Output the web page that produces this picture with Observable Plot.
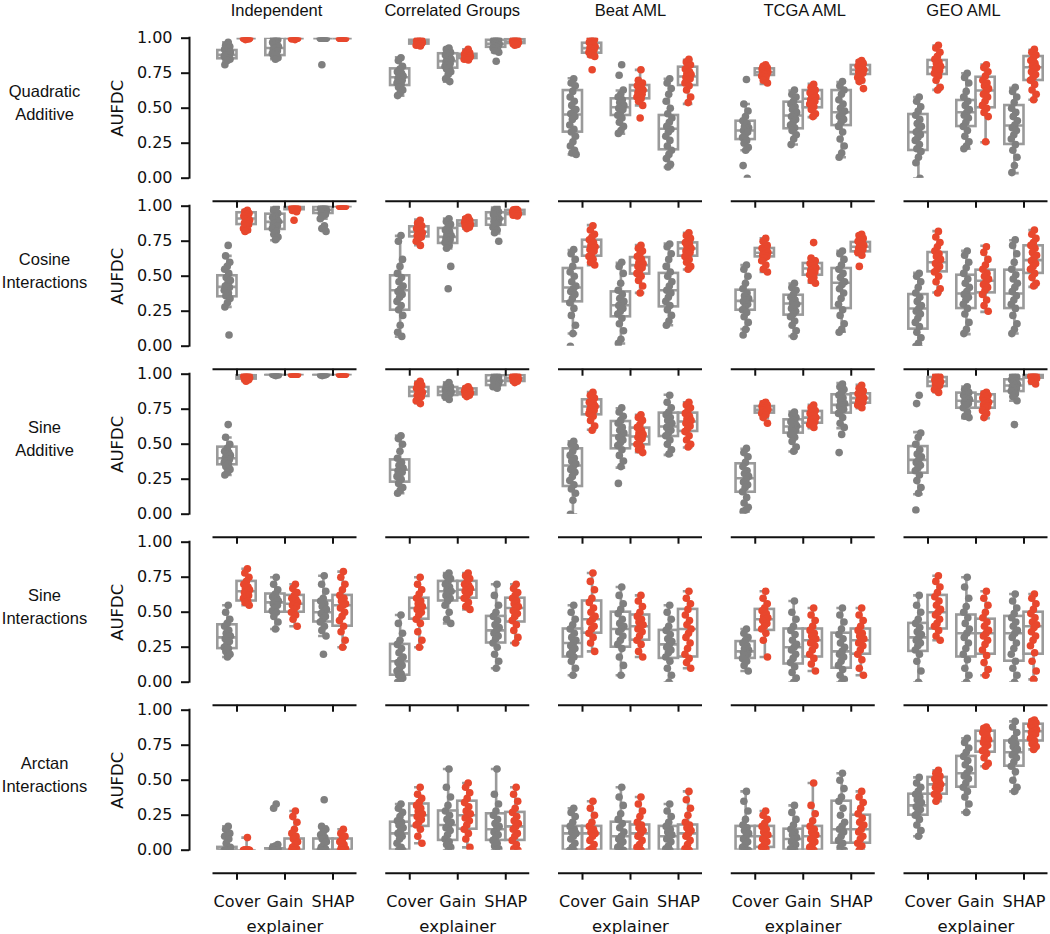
<!DOCTYPE html>
<html><head><meta charset="utf-8">
<script src="https://cdn.jsdelivr.net/npm/d3@7"></script>
<script src="https://cdn.jsdelivr.net/npm/@observablehq/plot@0.6"></script>
<style>
html,body{margin:0;padding:0;background:#fff;}
#chart{width:1050px;height:934px;}
</style></head><body><div id="chart"></div>
<script>
const datasets = ["Independent", "Correlated Groups", "Beat AML", "TCGA AML", "GEO AML"];
const settings = ["Quadratic Additive", "Cosine Interactions", "Sine Additive", "Sine Interactions", "Arctan Interactions"];
const explainers = ["Cover", "Gain", "SHAP"];
const hues = ["series A", "series B"];
const yTicks = [0, 0.25, 0.5, 0.75, 1];

// [dataset, explainer, hue, [whiskerLow, q1, median, q3, whiskerHigh], points]
const quadraticAdditive = [
 [0,0,0,[0.84,0.853,0.881,0.912,0.97],[0.97,0.95,0.94,0.93,0.92,0.91,0.90,0.90,0.89,0.88,0.88,0.87,0.87,0.86,0.86,0.85,0.84,0.81]],
 [0,0,1,[1,1,1,1,1],[1,1,1,0.995,1,1,0.99,1,1,1,0.995,1,1,1,1]],
 [0,1,0,[0.85,0.876,0.93,1,1],[1,1,0.99,0.98,0.97,0.96,0.95,0.94,0.93,0.92,0.91,0.90,0.89,0.88,0.87,0.86,0.85]],
 [0,1,1,[1,1,1,1,1],[1,1,1,1,0.995,1,1,1,0.99,1,1,1,1,1,1]],
 [0,2,0,[1,1,1,1,1],[1,1,1,1,1,1,1,1,1,1,1,1,1,1,0.81]],
 [0,2,1,[1,1,1,1,1],[1,1,1,1,1,1,1,1,1,1,1,1,1,1,1]],
 [1,0,0,[0.59,0.662,0.721,0.781,0.864],[0.86,0.84,0.80,0.78,0.76,0.75,0.74,0.73,0.72,0.71,0.70,0.69,0.68,0.67,0.65,0.63,0.61,0.59]],
 [1,0,1,[0.945,0.958,0.972,0.985,0.995],[0.99,0.99,0.985,0.98,0.98,0.975,0.97,0.97,0.965,0.96,0.96,0.955,0.95,0.945]],
 [1,1,0,[0.69,0.786,0.836,0.889,0.93],[0.93,0.92,0.90,0.89,0.88,0.87,0.86,0.85,0.84,0.83,0.82,0.81,0.80,0.79,0.78,0.76,0.74,0.71,0.69]],
 [1,1,1,[0.84,0.855,0.87,0.885,0.92],[0.92,0.90,0.895,0.89,0.885,0.88,0.875,0.87,0.87,0.865,0.86,0.855,0.85,0.845]],
 [1,2,0,[0.90,0.935,0.96,0.985,1],[1,1,0.99,0.985,0.98,0.97,0.965,0.96,0.955,0.95,0.945,0.94,0.93,0.92,0.91,0.90,0.835]],
 [1,2,1,[0.95,0.962,0.975,0.99,1],[1,0.995,0.99,0.985,0.98,0.975,0.97,0.97,0.965,0.96,0.955,0.95]],
 [2,0,0,[0.17,0.329,0.455,0.626,0.714],[0.71,0.68,0.66,0.62,0.58,0.55,0.52,0.49,0.47,0.46,0.44,0.42,0.38,0.35,0.33,0.30,0.26,0.23,0.20,0.18,0.17]],
 [2,0,1,[0.87,0.893,0.929,0.964,1],[1,1,0.99,0.98,0.97,0.96,0.95,0.94,0.93,0.93,0.92,0.91,0.90,0.89,0.88,0.87,0.775]],
 [2,1,0,[0.317,0.448,0.507,0.567,0.626],[0.81,0.735,0.63,0.60,0.58,0.56,0.54,0.52,0.51,0.50,0.49,0.47,0.45,0.43,0.40,0.37,0.34,0.32]],
 [2,1,1,[0.52,0.567,0.626,0.662,0.774],[0.775,0.70,0.68,0.67,0.66,0.65,0.64,0.63,0.62,0.61,0.60,0.59,0.58,0.57,0.55,0.52,0.43]],
 [2,2,0,[0.079,0.203,0.353,0.448,0.71],[0.71,0.68,0.64,0.60,0.55,0.50,0.46,0.43,0.40,0.37,0.35,0.33,0.30,0.27,0.23,0.20,0.17,0.14,0.10,0.08]],
 [2,2,1,[0.531,0.662,0.726,0.793,0.846],[0.85,0.83,0.81,0.80,0.78,0.76,0.75,0.74,0.73,0.72,0.71,0.70,0.68,0.66,0.63,0.58,0.54]],
 [3,0,0,[0.20,0.276,0.341,0.407,0.53],[0.705,0.53,0.48,0.44,0.41,0.39,0.37,0.36,0.35,0.34,0.33,0.31,0.29,0.27,0.25,0.22,0.20,0.09,0.0]],
 [3,0,1,[0.674,0.734,0.757,0.781,0.80],[0.81,0.80,0.79,0.785,0.78,0.77,0.765,0.76,0.755,0.75,0.745,0.74,0.73,0.72,0.70,0.68]],
 [3,1,0,[0.241,0.353,0.448,0.543,0.626],[0.63,0.60,0.58,0.55,0.53,0.51,0.49,0.47,0.45,0.44,0.42,0.40,0.38,0.36,0.34,0.31,0.28,0.24]],
 [3,1,1,[0.436,0.503,0.567,0.626,0.674],[0.67,0.65,0.63,0.62,0.61,0.60,0.59,0.58,0.57,0.56,0.55,0.54,0.53,0.51,0.49,0.46,0.44]],
 [3,2,0,[0.15,0.376,0.471,0.626,0.686],[0.69,0.66,0.63,0.60,0.56,0.53,0.50,0.48,0.46,0.44,0.42,0.40,0.37,0.33,0.28,0.23,0.18,0.15]],
 [3,2,1,[0.686,0.741,0.774,0.805,0.84],[0.84,0.83,0.82,0.81,0.80,0.79,0.78,0.775,0.77,0.76,0.75,0.74,0.72,0.70,0.69,0.64]],
 [4,0,0,[0.0,0.198,0.329,0.455,0.579],[0.58,0.55,0.51,0.48,0.45,0.42,0.39,0.37,0.35,0.33,0.31,0.29,0.27,0.24,0.21,0.19,0.15,0.11,0.0]],
 [4,0,1,[0.631,0.741,0.793,0.841,0.948],[0.95,0.93,0.90,0.87,0.85,0.83,0.82,0.80,0.79,0.78,0.77,0.76,0.75,0.73,0.70,0.65,0.63]],
 [4,1,0,[0.21,0.369,0.471,0.555,0.75],[0.75,0.72,0.68,0.62,0.58,0.55,0.52,0.49,0.47,0.45,0.43,0.40,0.37,0.34,0.30,0.26,0.23,0.21]],
 [4,1,1,[0.257,0.503,0.626,0.721,0.812],[0.81,0.79,0.76,0.73,0.70,0.68,0.66,0.64,0.62,0.60,0.58,0.55,0.52,0.50,0.47,0.44,0.26]],
 [4,2,0,[0.036,0.241,0.376,0.519,0.646],[0.65,0.62,0.58,0.54,0.50,0.47,0.44,0.41,0.38,0.36,0.34,0.31,0.28,0.24,0.20,0.15,0.09,0.04]],
 [4,2,1,[0.56,0.698,0.793,0.869,0.917],[0.92,0.90,0.88,0.86,0.84,0.82,0.80,0.79,0.78,0.76,0.74,0.72,0.70,0.67,0.63,0.60,0.56]]
];

const cosineInteractions = [
 [0,0,0,[0.281,0.353,0.424,0.503,0.645],[0.72,0.645,0.60,0.57,0.55,0.52,0.49,0.47,0.45,0.43,0.42,0.41,0.40,0.38,0.36,0.34,0.31,0.28,0.08]],
 [0,0,1,[0.817,0.869,0.912,0.953,0.972],[0.97,0.96,0.95,0.94,0.93,0.92,0.91,0.90,0.89,0.88,0.87,0.86,0.84,0.83,0.82]],
 [0,1,0,[0.757,0.834,0.888,0.943,0.99],[0.99,0.97,0.95,0.93,0.92,0.91,0.90,0.89,0.88,0.87,0.86,0.85,0.84,0.82,0.80,0.78,0.76]],
 [0,1,1,[0.96,0.975,0.99,1,1],[1,1,1,0.995,0.99,0.99,0.985,0.98,0.975,0.97,0.96,0.90]],
 [0,2,0,[0.91,0.948,0.975,0.995,1],[1,1,0.995,0.99,0.985,0.98,0.975,0.97,0.96,0.95,0.94,0.93,0.91,0.86,0.84,0.82]],
 [0,2,1,[1,1,1,1,1],[1,1,1,1,1,1,1,1,1,1,1,1,1,1]],
 [1,0,0,[0.067,0.257,0.40,0.503,0.788],[0.79,0.75,0.62,0.57,0.52,0.49,0.46,0.43,0.41,0.39,0.37,0.35,0.32,0.29,0.26,0.22,0.15,0.10,0.07]],
 [1,0,1,[0.722,0.781,0.817,0.853,0.905],[0.90,0.88,0.86,0.85,0.84,0.83,0.82,0.81,0.80,0.79,0.78,0.77,0.75,0.72]],
 [1,1,0,[0.698,0.734,0.781,0.841,0.912],[0.91,0.89,0.87,0.85,0.83,0.82,0.80,0.79,0.78,0.77,0.76,0.75,0.74,0.72,0.70,0.57,0.41]],
 [1,1,1,[0.84,0.858,0.876,0.895,0.92],[0.92,0.91,0.90,0.89,0.885,0.88,0.875,0.87,0.865,0.86,0.85,0.84]],
 [1,2,0,[0.805,0.864,0.912,0.953,0.99],[0.99,0.97,0.96,0.95,0.94,0.93,0.92,0.91,0.90,0.89,0.88,0.87,0.85,0.83,0.81,0.75]],
 [1,2,1,[0.93,0.94,0.955,0.97,0.98],[0.98,0.975,0.97,0.965,0.96,0.955,0.95,0.945,0.94,0.935,0.93]],
 [2,0,0,[0.091,0.317,0.419,0.555,0.686],[0.69,0.66,0.62,0.57,0.53,0.50,0.46,0.43,0.41,0.39,0.37,0.34,0.31,0.27,0.22,0.15,0.09,0.0]],
 [2,0,1,[0.579,0.643,0.71,0.757,0.865],[0.86,0.83,0.80,0.78,0.76,0.74,0.72,0.71,0.70,0.69,0.68,0.66,0.64,0.62,0.60,0.58]],
 [2,1,0,[0.019,0.21,0.293,0.388,0.595],[0.60,0.57,0.52,0.45,0.40,0.37,0.34,0.32,0.30,0.29,0.27,0.25,0.23,0.20,0.16,0.11,0.05,0.02]],
 [2,1,1,[0.381,0.515,0.579,0.633,0.722],[0.72,0.70,0.68,0.66,0.64,0.62,0.60,0.59,0.58,0.57,0.56,0.54,0.52,0.50,0.47,0.43,0.38]],
 [2,2,0,[0.15,0.281,0.40,0.52,0.734],[0.73,0.71,0.66,0.62,0.57,0.53,0.50,0.46,0.43,0.40,0.38,0.35,0.32,0.29,0.26,0.22,0.18,0.15]],
 [2,2,1,[0.548,0.643,0.698,0.738,0.81],[0.81,0.79,0.77,0.75,0.74,0.73,0.72,0.70,0.69,0.68,0.67,0.66,0.64,0.62,0.60,0.57,0.55]],
 [3,0,0,[0.122,0.257,0.324,0.40,0.579],[0.58,0.55,0.50,0.45,0.41,0.38,0.36,0.34,0.33,0.32,0.30,0.28,0.26,0.24,0.21,0.17,0.12,0.08]],
 [3,0,1,[0.531,0.638,0.667,0.698,0.77],[0.77,0.75,0.72,0.71,0.70,0.69,0.68,0.67,0.66,0.65,0.64,0.63,0.61,0.58,0.55,0.53]],
 [3,1,0,[0.072,0.222,0.305,0.364,0.448],[0.45,0.42,0.40,0.37,0.35,0.33,0.31,0.30,0.29,0.27,0.25,0.23,0.21,0.18,0.15,0.11,0.07]],
 [3,1,1,[0.453,0.507,0.555,0.591,0.626],[0.74,0.63,0.61,0.60,0.59,0.58,0.57,0.56,0.55,0.54,0.53,0.52,0.51,0.49,0.47,0.45]],
 [3,2,0,[0.103,0.269,0.453,0.555,0.681],[0.68,0.66,0.62,0.58,0.55,0.52,0.49,0.46,0.44,0.41,0.38,0.34,0.30,0.26,0.22,0.16,0.12,0.10]],
 [3,2,1,[0.65,0.674,0.71,0.741,0.80],[0.80,0.79,0.77,0.76,0.75,0.74,0.73,0.72,0.71,0.70,0.69,0.68,0.67,0.65,0.57]],
 [4,0,0,[0.0,0.122,0.269,0.369,0.524],[0.52,0.50,0.46,0.42,0.38,0.35,0.32,0.29,0.27,0.25,0.23,0.20,0.17,0.14,0.10,0.06,0.02,0.0]],
 [4,0,1,[0.384,0.531,0.60,0.669,0.822],[0.82,0.78,0.74,0.71,0.68,0.66,0.64,0.62,0.60,0.59,0.57,0.55,0.53,0.50,0.46,0.41,0.38]],
 [4,1,0,[0.086,0.269,0.376,0.507,0.681],[0.68,0.65,0.60,0.56,0.52,0.48,0.45,0.42,0.39,0.37,0.35,0.33,0.30,0.27,0.23,0.17,0.12,0.09]],
 [4,1,1,[0.245,0.381,0.467,0.543,0.717],[0.71,0.67,0.62,0.58,0.55,0.52,0.50,0.48,0.46,0.44,0.42,0.40,0.37,0.33,0.29,0.25]],
 [4,2,0,[0.091,0.269,0.376,0.543,0.757],[0.76,0.72,0.66,0.60,0.55,0.51,0.48,0.45,0.42,0.39,0.36,0.33,0.30,0.27,0.22,0.16,0.12,0.09]],
 [4,2,1,[0.424,0.52,0.615,0.717,0.829],[0.83,0.80,0.77,0.74,0.72,0.70,0.67,0.65,0.63,0.61,0.59,0.57,0.55,0.52,0.49,0.45,0.43]]
];

const sineAdditive = [
 [0,0,0,[0.281,0.353,0.40,0.479,0.548],[0.64,0.55,0.50,0.47,0.45,0.44,0.43,0.42,0.41,0.40,0.39,0.38,0.37,0.36,0.34,0.32,0.30,0.28]],
 [0,0,1,[0.95,0.965,0.98,0.99,1],[1,0.995,0.99,0.99,0.985,0.98,0.98,0.975,0.97,0.965,0.96,0.95]],
 [0,1,0,[0.99,0.995,1,1,1],[1,1,1,1,1,1,0.995,0.995,0.99,1,1,1]],
 [0,1,1,[1,1,1,1,1],[1,1,1,1,1,1,1,1,1,1,1,1,1,1]],
 [0,2,0,[0.99,0.995,1,1,1],[1,1,1,1,0.995,0.995,0.99,1,1,1,1,1]],
 [0,2,1,[1,1,1,1,1],[1,1,1,1,1,1,1,1,1,1,1,1,1,1]],
 [1,0,0,[0.15,0.229,0.317,0.388,0.562],[0.56,0.54,0.50,0.45,0.40,0.37,0.35,0.33,0.32,0.31,0.30,0.29,0.27,0.25,0.22,0.19,0.17,0.15]],
 [1,0,1,[0.793,0.841,0.876,0.905,0.948],[0.95,0.93,0.92,0.91,0.90,0.89,0.88,0.87,0.86,0.85,0.84,0.83,0.81,0.79]],
 [1,1,0,[0.817,0.848,0.876,0.905,0.943],[0.94,0.92,0.91,0.90,0.89,0.885,0.88,0.875,0.87,0.865,0.86,0.85,0.84,0.82]],
 [1,1,1,[0.84,0.853,0.874,0.895,0.91],[0.91,0.90,0.89,0.885,0.88,0.875,0.87,0.865,0.86,0.855,0.85,0.84]],
 [1,2,0,[0.90,0.919,0.953,0.99,0.995],[0.995,0.99,0.98,0.97,0.965,0.96,0.955,0.95,0.945,0.94,0.93,0.92,0.91,0.90]],
 [1,2,1,[0.94,0.948,0.97,0.99,1],[1,0.995,0.99,0.985,0.98,0.975,0.97,0.965,0.96,0.955,0.95,0.94]],
 [2,0,0,[0.0,0.198,0.348,0.467,0.52],[0.52,0.50,0.48,0.45,0.42,0.40,0.38,0.36,0.34,0.32,0.30,0.27,0.24,0.21,0.18,0.15,0.10,0.0]],
 [2,0,1,[0.603,0.71,0.769,0.817,0.872],[0.87,0.85,0.83,0.81,0.80,0.79,0.78,0.77,0.76,0.75,0.74,0.73,0.72,0.70,0.67,0.63,0.60]],
 [2,1,0,[0.333,0.467,0.562,0.662,0.757],[0.76,0.73,0.70,0.67,0.65,0.62,0.60,0.58,0.56,0.55,0.53,0.51,0.49,0.46,0.42,0.38,0.34,0.22]],
 [2,1,1,[0.443,0.496,0.555,0.615,0.71],[0.71,0.69,0.67,0.64,0.62,0.60,0.58,0.57,0.56,0.55,0.54,0.52,0.50,0.48,0.46,0.44]],
 [2,2,0,[0.424,0.555,0.626,0.722,0.853],[0.85,0.80,0.76,0.73,0.71,0.69,0.67,0.65,0.63,0.62,0.60,0.58,0.56,0.53,0.50,0.46,0.43]],
 [2,2,1,[0.476,0.591,0.662,0.722,0.80],[0.80,0.78,0.76,0.74,0.72,0.70,0.68,0.67,0.66,0.65,0.63,0.61,0.59,0.56,0.53,0.50,0.48]],
 [3,0,0,[0.02,0.157,0.257,0.36,0.467],[0.47,0.44,0.41,0.37,0.34,0.31,0.29,0.27,0.25,0.23,0.21,0.19,0.16,0.12,0.08,0.05,0.03,0.02]],
 [3,0,1,[0.686,0.722,0.745,0.769,0.805],[0.80,0.79,0.78,0.775,0.77,0.76,0.755,0.75,0.745,0.74,0.735,0.73,0.72,0.71,0.69,0.65]],
 [3,1,0,[0.448,0.579,0.626,0.674,0.734],[0.73,0.71,0.69,0.67,0.66,0.65,0.64,0.63,0.62,0.61,0.60,0.59,0.57,0.55,0.52,0.48,0.45]],
 [3,1,1,[0.615,0.65,0.69,0.734,0.781],[0.78,0.76,0.74,0.73,0.72,0.71,0.70,0.69,0.68,0.67,0.66,0.65,0.64,0.62]],
 [3,2,0,[0.615,0.722,0.781,0.853,0.936],[0.93,0.91,0.89,0.87,0.85,0.83,0.81,0.79,0.78,0.77,0.75,0.74,0.72,0.69,0.65,0.62,0.57,0.44]],
 [3,2,1,[0.757,0.793,0.829,0.86,0.924],[0.92,0.90,0.88,0.87,0.86,0.85,0.84,0.83,0.82,0.81,0.80,0.79,0.78,0.76]],
 [4,0,0,[0.143,0.293,0.388,0.483,0.586],[0.85,0.79,0.58,0.55,0.50,0.46,0.43,0.41,0.39,0.37,0.35,0.33,0.31,0.28,0.24,0.19,0.15,0.03]],
 [4,0,1,[0.872,0.912,0.948,0.976,1],[1,0.99,0.98,0.97,0.96,0.955,0.95,0.945,0.94,0.93,0.92,0.91,0.89,0.87]],
 [4,1,0,[0.686,0.757,0.81,0.865,0.912],[0.91,0.89,0.87,0.86,0.85,0.84,0.83,0.82,0.81,0.80,0.79,0.78,0.76,0.73,0.70,0.69]],
 [4,1,1,[0.686,0.757,0.805,0.853,0.876],[0.87,0.86,0.85,0.84,0.83,0.82,0.81,0.80,0.79,0.78,0.77,0.76,0.74,0.72,0.69]],
 [4,2,0,[0.81,0.876,0.919,0.96,0.995],[1,0.99,0.98,0.97,0.96,0.95,0.94,0.93,0.92,0.91,0.90,0.89,0.88,0.86,0.84,0.81,0.64]],
 [4,2,1,[0.93,0.972,0.99,1,1],[1,1,0.995,0.99,0.985,0.98,0.975,0.97,0.96,0.95,0.93]]
];

const sineInteractions = [
 [0,0,0,[0.18,0.24,0.32,0.41,0.55],[0.55,0.50,0.45,0.42,0.40,0.37,0.35,0.33,0.32,0.31,0.29,0.27,0.25,0.24,0.22,0.20,0.18]],
 [0,0,1,[0.55,0.58,0.65,0.72,0.81],[0.81,0.78,0.75,0.72,0.70,0.68,0.67,0.66,0.65,0.64,0.62,0.61,0.60,0.58,0.57,0.55]],
 [0,1,0,[0.38,0.50,0.57,0.63,0.75],[0.75,0.70,0.66,0.63,0.61,0.60,0.59,0.58,0.57,0.56,0.55,0.53,0.51,0.50,0.47,0.43,0.38]],
 [0,1,1,[0.40,0.50,0.56,0.62,0.70],[0.70,0.67,0.64,0.62,0.60,0.59,0.58,0.57,0.56,0.55,0.54,0.52,0.50,0.48,0.45,0.40]],
 [0,2,0,[0.33,0.43,0.50,0.58,0.76],[0.76,0.70,0.65,0.60,0.58,0.56,0.54,0.52,0.50,0.49,0.47,0.45,0.43,0.40,0.37,0.33,0.20]],
 [0,2,1,[0.25,0.40,0.55,0.62,0.79],[0.79,0.75,0.70,0.66,0.62,0.60,0.58,0.56,0.55,0.53,0.50,0.47,0.44,0.40,0.36,0.30,0.25]],
 [1,0,0,[0.0,0.05,0.15,0.27,0.48],[0.48,0.42,0.35,0.30,0.27,0.24,0.21,0.18,0.16,0.14,0.12,0.10,0.08,0.06,0.05,0.03,0.01,0.0]],
 [1,0,1,[0.25,0.45,0.53,0.60,0.75],[0.75,0.70,0.66,0.63,0.60,0.58,0.56,0.54,0.53,0.52,0.50,0.48,0.45,0.42,0.36,0.30,0.25]],
 [1,1,0,[0.42,0.58,0.65,0.72,0.78],[0.78,0.76,0.74,0.72,0.70,0.68,0.66,0.65,0.64,0.62,0.60,0.58,0.55,0.50,0.45,0.42]],
 [1,1,1,[0.52,0.60,0.66,0.72,0.78],[0.78,0.76,0.74,0.72,0.70,0.69,0.68,0.67,0.66,0.65,0.64,0.62,0.60,0.57,0.54,0.52]],
 [1,2,0,[0.10,0.28,0.37,0.47,0.70],[0.70,0.62,0.55,0.50,0.47,0.44,0.41,0.39,0.37,0.35,0.33,0.31,0.28,0.25,0.20,0.15,0.10]],
 [1,2,1,[0.28,0.43,0.53,0.60,0.70],[0.70,0.67,0.64,0.62,0.60,0.58,0.56,0.54,0.53,0.51,0.49,0.47,0.44,0.41,0.37,0.32,0.28]],
 [2,0,0,[0.05,0.18,0.28,0.38,0.55],[0.55,0.50,0.45,0.41,0.38,0.35,0.32,0.30,0.28,0.26,0.24,0.22,0.20,0.18,0.15,0.10,0.05]],
 [2,0,1,[0.22,0.35,0.45,0.58,0.78],[0.78,0.72,0.66,0.60,0.57,0.53,0.50,0.47,0.45,0.43,0.40,0.38,0.35,0.32,0.28,0.22]],
 [2,1,0,[0.05,0.25,0.38,0.50,0.68],[0.68,0.62,0.56,0.52,0.49,0.45,0.42,0.40,0.38,0.36,0.33,0.30,0.27,0.24,0.18,0.12,0.05]],
 [2,1,1,[0.18,0.30,0.40,0.48,0.62],[0.62,0.58,0.54,0.50,0.47,0.45,0.43,0.41,0.40,0.38,0.36,0.33,0.30,0.27,0.22,0.18]],
 [2,2,0,[0.0,0.17,0.27,0.37,0.55],[0.55,0.50,0.45,0.40,0.37,0.34,0.31,0.29,0.27,0.25,0.23,0.21,0.18,0.15,0.10,0.05,0.0]],
 [2,2,1,[0.10,0.18,0.38,0.52,0.65],[0.65,0.60,0.56,0.52,0.48,0.44,0.41,0.38,0.35,0.32,0.28,0.24,0.20,0.17,0.14,0.10]],
 [3,0,0,[0.08,0.17,0.22,0.29,0.38],[0.38,0.35,0.32,0.30,0.28,0.26,0.24,0.23,0.22,0.21,0.20,0.19,0.17,0.15,0.12,0.08]],
 [3,0,1,[0.18,0.37,0.45,0.52,0.65],[0.65,0.60,0.56,0.53,0.51,0.49,0.47,0.46,0.45,0.44,0.42,0.40,0.38,0.35,0.30,0.18]],
 [3,1,0,[0.0,0.13,0.25,0.38,0.58],[0.58,0.50,0.45,0.40,0.37,0.34,0.30,0.27,0.25,0.23,0.20,0.17,0.14,0.11,0.07,0.03,0.0]],
 [3,1,1,[0.08,0.18,0.30,0.38,0.53],[0.53,0.48,0.44,0.40,0.37,0.35,0.33,0.31,0.30,0.28,0.26,0.23,0.20,0.17,0.13,0.08]],
 [3,2,0,[0.0,0.10,0.22,0.35,0.53],[0.53,0.48,0.43,0.38,0.34,0.31,0.28,0.25,0.22,0.20,0.18,0.15,0.12,0.09,0.05,0.02,0.0]],
 [3,2,1,[0.05,0.20,0.30,0.38,0.53],[0.53,0.48,0.44,0.40,0.37,0.35,0.33,0.31,0.30,0.28,0.26,0.23,0.20,0.16,0.10,0.05]],
 [4,0,0,[0.0,0.22,0.32,0.42,0.62],[0.62,0.55,0.50,0.45,0.42,0.39,0.36,0.34,0.32,0.30,0.28,0.26,0.23,0.20,0.15,0.08,0.0]],
 [4,0,1,[0.30,0.38,0.50,0.62,0.76],[0.76,0.72,0.68,0.64,0.61,0.58,0.55,0.52,0.50,0.48,0.45,0.42,0.40,0.37,0.33,0.30]],
 [4,1,0,[0.0,0.18,0.35,0.48,0.75],[0.75,0.68,0.60,0.54,0.50,0.46,0.42,0.38,0.35,0.32,0.28,0.24,0.20,0.16,0.10,0.05,0.0]],
 [4,1,1,[0.05,0.20,0.35,0.45,0.65],[0.65,0.60,0.55,0.50,0.46,0.43,0.40,0.37,0.35,0.33,0.30,0.27,0.23,0.19,0.14,0.09,0.05]],
 [4,2,0,[0.0,0.15,0.35,0.47,0.63],[0.63,0.58,0.53,0.49,0.46,0.43,0.40,0.37,0.35,0.32,0.28,0.24,0.20,0.15,0.10,0.05,0.0]],
 [4,2,1,[0.02,0.20,0.40,0.50,0.63],[0.63,0.60,0.56,0.52,0.49,0.46,0.43,0.41,0.39,0.36,0.33,0.30,0.26,0.21,0.15,0.08,0.02]]
];

const arctanInteractions = [
 [0,0,0,[0,0,0,0.02,0.17],[0.17,0.15,0.12,0.11,0.10,0.08,0.05,0.02,0.01,0,0,0,0,0,0,0]],
 [0,0,1,[0,0,0,0,0.09],[0.09,0,0,0,0,0,0,0,0,0,0,0,0,0]],
 [0,1,0,[0,0,0,0.01,0.04],[0.33,0.30,0.04,0.03,0.02,0.01,0.01,0,0,0,0,0,0,0,0]],
 [0,1,1,[0,0,0,0.08,0.28],[0.28,0.24,0.20,0.15,0.12,0.10,0.08,0.06,0.04,0.02,0.01,0,0,0,0]],
 [0,2,0,[0,0,0,0.08,0.17],[0.36,0.17,0.15,0.13,0.11,0.09,0.08,0.06,0.04,0.02,0.01,0,0,0,0,0]],
 [0,2,1,[0,0,0,0.08,0.15],[0.15,0.12,0.10,0.08,0.06,0.04,0.02,0.01,0,0,0,0]],
 [1,0,0,[0,0,0.12,0.20,0.33],[0.33,0.30,0.27,0.24,0.21,0.20,0.18,0.16,0.14,0.12,0.10,0.08,0.05,0.02,0,0,0]],
 [1,0,1,[0.05,0.17,0.25,0.33,0.45],[0.45,0.40,0.37,0.34,0.32,0.30,0.28,0.26,0.25,0.24,0.22,0.20,0.18,0.15,0.10,0.05]],
 [1,1,0,[0,0.07,0.18,0.28,0.58],[0.58,0.45,0.38,0.32,0.28,0.25,0.22,0.20,0.18,0.16,0.14,0.11,0.08,0.06,0.04,0.02,0]],
 [1,1,1,[0.02,0.15,0.25,0.35,0.48],[0.48,0.45,0.41,0.37,0.34,0.31,0.28,0.26,0.25,0.23,0.21,0.18,0.15,0.12,0.08,0.02]],
 [1,2,0,[0,0.07,0.15,0.26,0.58],[0.58,0.40,0.33,0.28,0.25,0.22,0.19,0.17,0.15,0.13,0.11,0.09,0.07,0.05,0.03,0.01,0]],
 [1,2,1,[0,0.07,0.17,0.27,0.45],[0.45,0.40,0.35,0.30,0.27,0.24,0.21,0.19,0.17,0.15,0.12,0.10,0.07,0.04,0.01,0]],
 [2,0,0,[0,0,0.12,0.17,0.30],[0.30,0.27,0.24,0.20,0.17,0.15,0.13,0.12,0.10,0.08,0.05,0.02,0,0,0]],
 [2,0,1,[0,0,0.12,0.17,0.35],[0.35,0.30,0.25,0.20,0.17,0.15,0.13,0.12,0.10,0.07,0.04,0.01,0,0]],
 [2,1,0,[0,0,0.10,0.20,0.45],[0.45,0.38,0.32,0.26,0.22,0.19,0.16,0.13,0.10,0.08,0.06,0.04,0.02,0,0,0]],
 [2,1,1,[0,0,0.12,0.18,0.38],[0.38,0.33,0.28,0.24,0.20,0.18,0.16,0.14,0.12,0.10,0.07,0.04,0.02,0,0]],
 [2,2,0,[0,0,0.10,0.17,0.33],[0.33,0.28,0.24,0.20,0.17,0.15,0.13,0.11,0.10,0.08,0.06,0.03,0.01,0,0]],
 [2,2,1,[0,0,0.12,0.18,0.42],[0.42,0.36,0.30,0.25,0.20,0.18,0.16,0.14,0.12,0.10,0.07,0.04,0.01,0,0]],
 [3,0,0,[0,0,0.10,0.17,0.42],[0.42,0.35,0.28,0.22,0.18,0.16,0.14,0.12,0.10,0.08,0.06,0.04,0.02,0,0,0]],
 [3,0,1,[0,0.02,0.10,0.17,0.28],[0.28,0.25,0.22,0.19,0.17,0.15,0.13,0.11,0.10,0.08,0.06,0.04,0.02,0.01,0]],
 [3,1,0,[0,0,0.08,0.15,0.32],[0.32,0.27,0.22,0.18,0.15,0.13,0.11,0.09,0.08,0.06,0.04,0.02,0.01,0,0]],
 [3,1,1,[0,0,0.10,0.17,0.48],[0.48,0.32,0.26,0.21,0.17,0.15,0.13,0.11,0.10,0.08,0.06,0.04,0.02,0,0]],
 [3,2,0,[0,0.05,0.15,0.35,0.55],[0.55,0.50,0.44,0.38,0.35,0.30,0.25,0.20,0.17,0.15,0.13,0.10,0.07,0.05,0.02,0]],
 [3,2,1,[0,0.05,0.15,0.25,0.42],[0.42,0.38,0.34,0.30,0.26,0.23,0.20,0.18,0.15,0.13,0.10,0.08,0.05,0.03,0]],
 [4,0,0,[0.10,0.25,0.32,0.40,0.52],[0.52,0.48,0.45,0.42,0.40,0.38,0.36,0.34,0.32,0.31,0.29,0.27,0.25,0.22,0.18,0.14,0.10]],
 [4,0,1,[0.35,0.40,0.47,0.52,0.57],[0.57,0.55,0.53,0.52,0.51,0.50,0.48,0.47,0.46,0.45,0.44,0.42,0.40,0.38,0.35]],
 [4,1,0,[0.27,0.45,0.55,0.67,0.80],[0.80,0.77,0.73,0.70,0.67,0.64,0.61,0.58,0.55,0.53,0.51,0.48,0.45,0.42,0.38,0.33,0.27]],
 [4,1,1,[0.60,0.70,0.78,0.85,0.88],[0.88,0.87,0.86,0.85,0.84,0.82,0.80,0.79,0.78,0.77,0.75,0.73,0.71,0.69,0.66,0.62,0.60]],
 [4,2,0,[0.42,0.60,0.70,0.78,0.92],[0.92,0.88,0.84,0.80,0.78,0.76,0.74,0.72,0.70,0.68,0.66,0.63,0.60,0.56,0.50,0.45,0.42]],
 [4,2,1,[0.72,0.78,0.85,0.90,0.93],[0.93,0.92,0.91,0.90,0.89,0.88,0.87,0.86,0.85,0.84,0.83,0.82,0.80,0.78,0.76,0.74,0.72]]
];

const rowData = [quadraticAdditive, cosineInteractions, sineAdditive, sineInteractions, arctanInteractions];

// ---- build tables ----
const GREY = "#7f7f7f", RED = "#e8472d", BOX = "#9a9a9a", INK = "#111";
const jitter = k => ((((k + 1) * 0.6180339887) % 1) - 0.5) * 0.14;
const boxes = [], points = [];
rowData.forEach((rows, ri) => rows.forEach(([c, e, h, s, pts]) => {
  const fy = settings[ri], fx = datasets[c];
  const center = e + (h ? 0.2 : -0.2);
  boxes.push({fx, fy, hue: hues[h], center, lo: s[0], q1: s[1], med: s[2], q3: s[3], hi: s[4]});
  pts.forEach((v, k) => points.push({fx, fy, hue: hues[h], x: center + jitter(k), y: v}));
}));
const cells = settings.flatMap(fy => datasets.map(fx => ({fx, fy})));
const bottomLabels = datasets.flatMap(fx => explainers.map((t, i) => ({fx, fy: settings[4], i, t})));

const boxStyle = {fx: "fx", fy: "fy", stroke: BOX, strokeWidth: 2.6, clip: true};
const chart = Plot.plot({
  width: 1050, height: 934,
  marginLeft: 212.5, marginRight: 2.5, marginTop: 37.7, marginBottom: 84.3,
  style: {fontFamily: "DejaVu Sans", fontSize: "16px", background: "#fff", color: INK},
  fx: {domain: datasets, paddingInner: 28.75 / 172.75, paddingOuter: 0, round: false, axis: null},
  fy: {domain: settings, paddingInner: 28 / 168, paddingOuter: 0, round: false, axis: null},
  x: {domain: [-0.5, 2.5], axis: null},
  y: {domain: [0, 1], axis: null},
  color: {type: "ordinal", domain: hues, range: [GREY, RED], legend: false},
  marks: [
    Plot.rect(boxes, {...boxStyle, x1: d => d.center - 0.2, x2: d => d.center + 0.2, y1: "q1", y2: "q3", fill: "none"}),
    Plot.ruleX(boxes, {...boxStyle, x: "center", y1: "lo", y2: "q1"}),
    Plot.ruleX(boxes, {...boxStyle, x: "center", y1: "q3", y2: "hi"}),
    Plot.ruleY(boxes, {...boxStyle, y: "lo", x1: d => d.center - 0.1, x2: d => d.center + 0.1}),
    Plot.ruleY(boxes, {...boxStyle, y: "hi", x1: d => d.center - 0.1, x2: d => d.center + 0.1}),
    Plot.ruleY(boxes, {...boxStyle, y: "med", x1: d => d.center - 0.2, x2: d => d.center + 0.2}),
    Plot.dot(points, {fx: "fx", fy: "fy", x: "x", y: "y", r: 3.8, fill: "hue", stroke: null, clip: true}),
    // offset x axis line + ticks in every facet
    Plot.ruleY(cells, {fx: "fx", fy: "fy", y: () => 0, dy: 23, stroke: INK, strokeWidth: 2}),
    Plot.axisX({ticks: [0, 1, 2], tickSize: 7, dy: 23, fill: "none", label: null, facetAnchor: null, stroke: INK, strokeWidth: 2}),
    // bottom tick labels and axis title
    Plot.text(bottomLabels, {fx: "fx", fy: "fy", x: "i", y: () => 0, text: "t", dy: 56.3, lineAnchor: "bottom", fontSize: 16, fill: INK}),
    Plot.text(datasets, {fx: d => d, fy: () => settings[4], x: () => 1, y: () => 0, text: () => "explainer", dy: 81.3, lineAnchor: "bottom", fontSize: 16.5, fill: INK}),
    // y axis with offset spine
    Plot.ruleX(settings, {fy: d => d, fx: () => datasets[0], x: () => -0.5, y1: () => 0, y2: () => 1, dx: -23.5, stroke: INK, strokeWidth: 2, strokeLinecap: "square"}),
    Plot.axisY({ticks: yTicks, tickFormat: d3.format(".2f"), tickSize: 8, tickPadding: 9, dx: -23.5, label: null, stroke: INK, strokeWidth: 2, fontSize: 16, fill: INK}),
    Plot.text(settings, {fy: d => d, fx: () => datasets[0], x: () => -0.5, y: () => 0.5, dx: -95, text: () => "AUFDC", rotate: -90, fontSize: 16.5, fill: INK}),
    // row labels
    Plot.text(settings, {fy: d => d, fx: () => datasets[0], x: () => -0.5, y: () => 0.5, dx: -168.5, dy: 11.3, lineAnchor: "bottom", lineHeight: 1.35, text: d => d.replace(" ", "\n"), fontFamily: "Liberation Sans", fontSize: 16.5, fill: INK}),
    // column titles
    ...datasets.map((name, i) => Plot.text([name], {fx: d => d, fy: () => settings[0], x: () => 1, y: () => 1, dx: [-8.5, -5.5, 0, 1.5, -12.5][i], dy: -22.7, lineAnchor: "bottom", text: d => d, fontFamily: "Liberation Sans", fontSize: 16.5, fill: INK}))
  ]
});
document.getElementById("chart").appendChild(chart);
</script>
</body></html>
